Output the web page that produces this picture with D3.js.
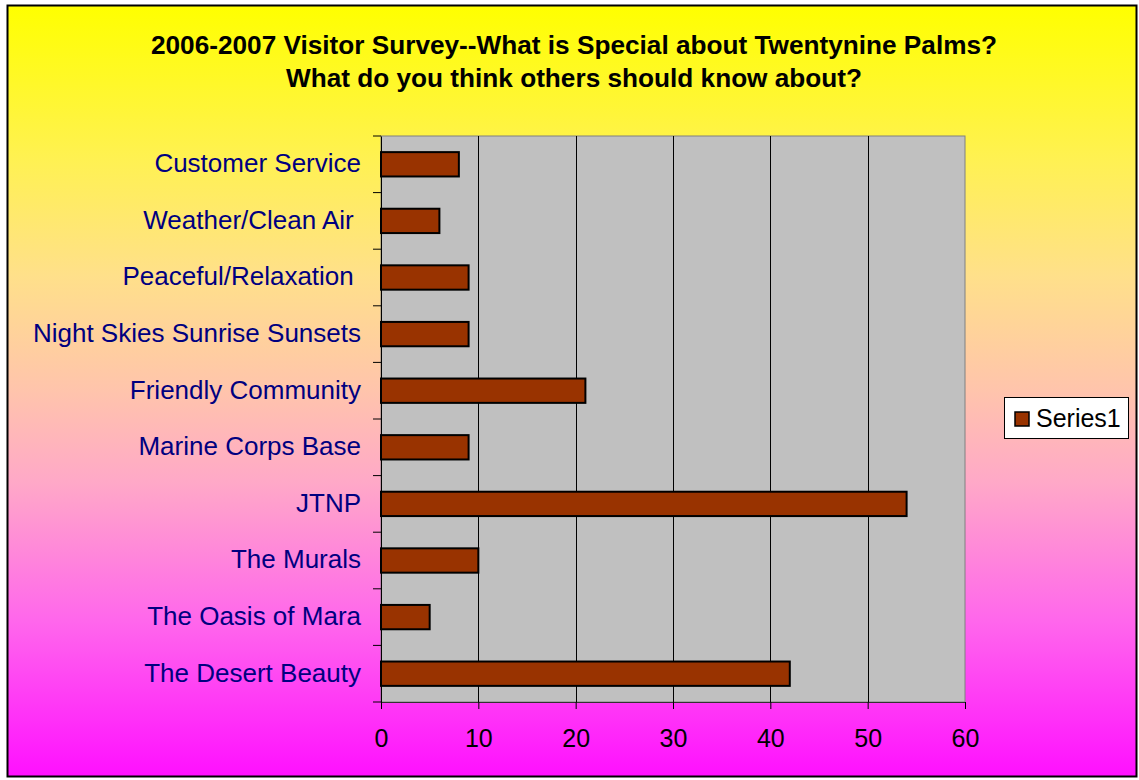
<!DOCTYPE html>
<html><head><meta charset="utf-8">
<script src="https://cdn.jsdelivr.net/npm/d3@7"></script>
<style>body{margin:0;background:#fff} text{white-space:pre}</style>
</head><body><svg id="c" width="1139" height="780"></svg>
<script>
const categories = ["Customer Service","Weather/Clean Air ","Peaceful/Relaxation ","Night Skies Sunrise Sunsets","Friendly Community","Marine Corps Base","JTNP","The Murals","The Oasis of Mara","The Desert Beauty"];
const values = [8, 6, 9, 9, 21, 9, 54, 10, 5, 42];
const xTicks = [0,10,20,30,40,50,60];
const titleLines = ["2006-2007 Visitor Survey--What is Special about Twentynine Palms?","What do you think others should know about?"];
const seriesName = "Series1";

const svg = d3.select("#c");
const defs = svg.append("defs");
const g = defs.append("linearGradient").attr("id","bg").attr("x1",0).attr("y1",0).attr("x2",0).attr("y2",1);
[[0,"#FFFF00"],[0.2,"#FFF152"],[0.35,"#FFE08A"],[0.5,"#FFC4AC"],[0.62,"#FFA8C8"],[0.8,"#FF66EC"],[1,"#FF10FF"]]
  .forEach(([o,c])=>g.append("stop").attr("offset",o).attr("stop-color",c));

svg.append("rect").attr("x",7.5).attr("y",5.5).attr("width",1129).attr("height",771)
  .attr("fill","url(#bg)").attr("stroke","#000").attr("stroke-width",2);

const pL=381, pR=965, pT=136, pB=702;
const x = d3.scaleLinear().domain([0,60]).range([pL,pR]);
const y = d3.scaleBand().domain(categories).range([pT,pB]).paddingInner(0.57).paddingOuter(0.285);
const yb = d3.scaleBand().domain(categories).range([pT,pB]);

svg.append("rect").attr("x",pL).attr("y",pT).attr("width",pR-pL).attr("height",pB-pT)
  .attr("fill","#C0C0C0").attr("stroke","#808080").attr("stroke-width",1);

svg.append("g").selectAll("line").data(xTicks.filter(t=>t>0&&t<60)).join("line")
  .attr("x1",d=>Math.round(x(d))+0.5).attr("x2",d=>Math.round(x(d))+0.5)
  .attr("y1",pT).attr("y2",pB).attr("stroke","#000").attr("stroke-width",1);

svg.append("g").selectAll("rect").data(values).join("rect")
  .attr("x",x(0)).attr("y",(d,i)=>y(categories[i]))
  .attr("width",d=>x(d)-x(0)).attr("height",y.bandwidth())
  .attr("fill","#993300").attr("stroke","#000").attr("stroke-width",2);

// x axis
const xa = svg.append("g").attr("transform",`translate(0,${pB})`)
  .call(d3.axisBottom(x).tickValues(xTicks).tickSize(7).tickSizeOuter(0).tickPadding(20));
xa.select(".domain").attr("stroke","#333");
xa.selectAll("text").attr("font-family","Liberation Sans, Arial, sans-serif").attr("font-size",25).attr("fill","#000");

// y axis
const ya = svg.append("g").attr("transform",`translate(${pL},0)`)
  .call(d3.axisLeft(yb).tickSize(0).tickPadding(20));
ya.select(".domain").attr("stroke","#000");
ya.selectAll("text").attr("font-family","Liberation Sans, Arial, sans-serif").attr("font-size",26).attr("fill","#000080").attr("dy","0.3em");
// category boundary ticks
svg.append("g").selectAll("line").data(d3.range(categories.length+1)).join("line")
  .attr("x1",pL-8).attr("x2",pL)
  .attr("y1",i=>i<categories.length?yb(categories[i]):pB)
  .attr("y2",i=>i<categories.length?yb(categories[i]):pB)
  .attr("stroke","#000").attr("stroke-width",1);

// title
svg.append("g").selectAll("text").data(titleLines).join("text")
  .attr("x",574).attr("y",(d,i)=>54+i*33).attr("text-anchor","middle")
  .attr("font-family","Liberation Sans, Arial, sans-serif").attr("font-weight","bold")
  .attr("font-size",26.2).attr("fill","#000").text(d=>d);

// legend
const lg = svg.append("g");
lg.append("rect").attr("x",1004.5).attr("y",397.5).attr("width",124).attr("height",41).attr("fill","#fff").attr("stroke","#000");
lg.append("rect").attr("x",1015).attr("y",412).attr("width",14).attr("height",14).attr("fill","#993300").attr("stroke","#000").attr("stroke-width",1.5);
lg.append("text").attr("x",1036).attr("y",427).attr("font-family","Liberation Sans, Arial, sans-serif").attr("font-size",25).text(seriesName);
</script></body></html>
